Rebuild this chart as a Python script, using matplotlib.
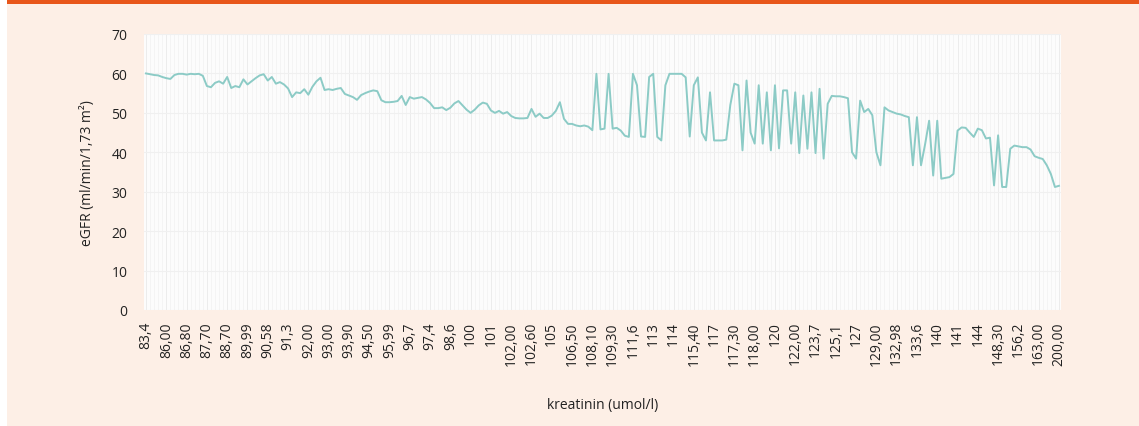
import numpy as np
import matplotlib.pyplot as plt
from matplotlib.patches import Rectangle

# eGFR-waarden per meetpunt (gesorteerd op kreatinine)
egfr = [
    60.0, 59.8, 59.6, 59.5, 59.1, 58.8, 58.6, 59.6, 59.9, 59.9,
    59.7, 59.9, 59.8, 59.9, 59.4, 56.8, 56.5, 57.6, 58.0, 57.4,
    59.1, 56.3, 56.8, 56.5, 58.5, 57.2, 58.0, 58.8, 59.5, 59.8,
    58.2, 59.1, 57.4, 57.8, 57.2, 56.2, 54.0, 55.2, 55.0, 56.0,
    54.6, 56.6, 58.0, 58.9, 55.8, 56.0, 55.8, 56.1, 56.3, 54.8,
    54.4, 54.0, 53.3, 54.5, 55.0, 55.4, 55.7, 55.5, 53.2, 52.7,
    52.7, 52.8, 53.0, 54.3, 52.0, 54.0, 53.6, 53.8, 54.0, 53.4,
    52.5, 51.2, 51.2, 51.4, 50.7, 51.3, 52.4, 53.0, 51.9, 50.8,
    50.0, 50.8, 51.9, 52.6, 52.3, 50.6, 50.0, 50.5, 49.8, 50.2,
    49.2, 48.7, 48.6, 48.6, 48.7, 51.0, 49.0, 49.8, 48.7, 48.7,
    49.3, 50.5, 52.7, 48.5, 47.2, 47.2, 46.8, 46.6, 46.8, 46.5,
    45.6, 59.9, 45.8, 46.0, 59.9, 46.0, 46.2, 45.5, 44.2, 43.9,
    59.9, 57.0, 44.0, 43.9, 59.1, 59.9, 43.9, 43.0, 57.0, 59.9,
    59.9, 59.9, 59.9, 59.0, 44.0, 57.0, 59.0, 45.0, 43.0, 55.2,
    43.0, 43.0, 43.0, 43.2, 52.0, 57.4, 57.0, 40.5, 58.2, 45.0,
    42.2, 57.0, 42.2, 55.2, 40.5, 57.0, 41.0, 55.7, 55.7, 42.2,
    55.2, 39.8, 54.4, 40.9, 55.2, 39.8, 56.1, 38.4, 52.3, 54.3,
    54.2, 54.2, 54.0, 53.7, 40.0, 38.4, 53.1, 50.2, 51.0, 49.4,
    40.0, 36.7, 51.4, 50.6, 50.2, 49.8, 49.6, 49.2, 48.9, 36.7,
    48.9, 36.7, 42.0, 48.0, 34.1, 48.0, 33.3, 33.5, 33.7, 34.5,
    45.5, 46.3, 46.2, 45.0, 43.9, 46.0, 45.6, 43.5, 43.7, 31.6,
    44.3, 31.2, 31.2, 40.9, 41.7, 41.5, 41.3, 41.3, 40.7, 39.0,
    38.6, 38.3, 36.7, 34.5, 31.2, 31.5,
]

# kreatinine-labels (elke 5e categorie heeft een label)
kreat_labels = [
    "83,4", "86,00", "86,80", "87,70", "88,70", "89,99", "90,58", "91,3",
    "92,00", "93,00", "93,90", "94,50", "95,99", "96,7", "97,4", "98,6",
    "100", "101", "102,00", "102,60", "105", "106,50", "108,10", "109,30",
    "111,6", "113", "114", "115,40", "117", "117,30", "118,00", "120",
    "122,00", "123,7", "125,1", "127", "129,00", "132,98", "133,6", "140",
    "141", "144", "148,30", "156,2", "163,00", "200,00",
]
label_step = 5

plt.rcParams['font.family'] = ['Open Sans', 'DejaVu Sans']

W, H = 1139, 427
fig = plt.figure(figsize=(W / 100, H / 100), dpi=100, facecolor='white')

# achtergrondvlak en oranje balk bovenaan
fig.patches.append(Rectangle((7 / W, 0), 1 - 7 / W, 1, transform=fig.transFigure,
                             facecolor='#fdefe6', edgecolor='none', zorder=-2))
fig.patches.append(Rectangle((7 / W, 1 - 5 / H), 1 - 7 / W, 5 / H, transform=fig.transFigure,
                             facecolor='#e8561a', edgecolor='none', zorder=-1))

ax = fig.add_axes([144 / W, 1 - 311 / H, (1061 - 144) / W, (311 - 35) / H])
ax.set_facecolor('#fcfcfc')

x = np.arange(len(egfr))
ax.plot(x, egfr, color='#8ccbc6', linewidth=1.4, solid_joinstyle='round', zorder=3)

ax.set_xlim(-0.5, len(egfr) - 0.5)
ax.set_ylim(0, 70)
ax.set_yticks(range(0, 71, 10))

ax.set_xticks(x[::label_step])
ax.set_xticklabels(kreat_labels, rotation=90)
ax.set_xticks(x, minor=True)

ax.grid(True, which='minor', axis='x', color='#f3f3f3', linewidth=0.6)
ax.grid(True, which='major', axis='x', color='#ececec', linewidth=0.7)
ax.grid(True, which='major', axis='y', color='#f0f0f0', linewidth=0.8)
ax.set_axisbelow(True)

ax.tick_params(axis='both', which='both', length=0, labelsize=10, colors='#222222')
ax.tick_params(axis='y', pad=12)
ax.tick_params(axis='x', pad=8)

for s in ax.spines.values():
    s.set_visible(False)

ax.set_ylabel("eGFR (ml/min/1,73 m²)", fontsize=10, color='#222222')
ax.yaxis.set_label_coords(-0.053, 0.5)
ax.set_xlabel("kreatinin (umol/l)", fontsize=10, color='#222222')
ax.xaxis.set_label_coords(0.5, -0.315)

fig.savefig('out.png', dpi=100, facecolor=fig.get_facecolor())
